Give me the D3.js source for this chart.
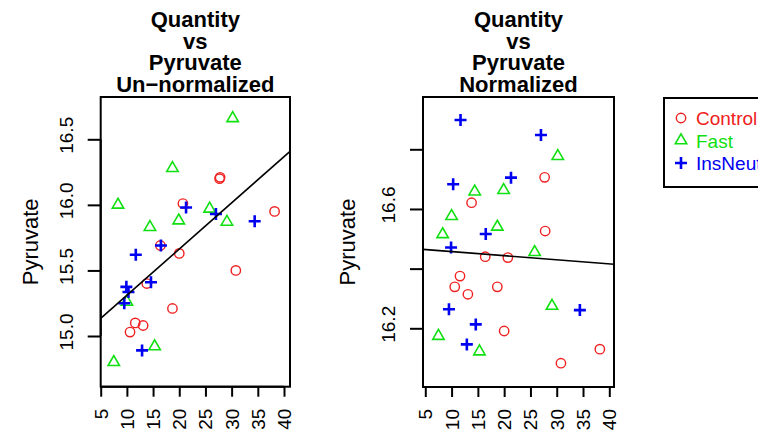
<!DOCTYPE html>
<html>
<head>
<meta charset="utf-8">
<title>Quantity vs Pyruvate</title>
<script src="https://d3js.org/d3.v7.min.js"></script>
<style>
  body { margin: 0; background: #fff; }
  text { font-family: "Liberation Sans", Arial, sans-serif; }
</style>
</head>
<body>
<div id="chart"></div>
<script>
// data
var groups = ["Control", "Fast", "InsNeut"];
var groupColors = ["#f02020", "#10e010", "#0000f0"];

var ctrlX    = [27.7, 27.8, 20.7, 38.2, 16.4, 20.0, 30.8, 13.8, 18.7, 11.6, 13.1, 10.6];
var ctrlRaw  = [16.20, 16.21, 16.01, 15.95, 15.69, 15.63, 15.50, 15.40, 15.21, 15.10, 15.08, 15.03];
var ctrlNorm = [16.706, 16.526, 16.437, 16.130, 16.440, 16.191, 16.083, 16.621, 16.339, 16.375, 16.314, 16.339];

var fastX    = [30.2, 18.7, 8.3, 25.8, 19.9, 29.1, 14.4, 10.0, 15.3, 7.5];
var fastRaw  = [16.66, 16.28, 16.00, 15.97, 15.88, 15.87, 15.83, 15.26, 14.92, 14.80];
var fastNorm = [16.777, 16.540, 16.515, 16.455, 16.663, 16.275, 16.658, 16.576, 16.122, 16.174];

var insX    = [21.3, 27.0, 34.4, 16.5, 11.7, 14.6, 9.9, 10.3, 9.5, 12.9];
var insRaw  = [15.98, 15.93, 15.875, 15.69, 15.62, 15.41, 15.375, 15.335, 15.25, 14.89];
var insNorm = [16.705, 16.848, 16.261, 16.516, 16.898, 16.213, 16.471, 16.683, 16.264, 16.146];

// fitted lines: [intercept, slope]
var rawFit  = [14.959, 0.0352];
var normFit = [16.471, -0.00138];

var xTicks = [5, 10, 15, 20, 25, 30, 35, 40];
var rawTicks = [15.0, 15.5, 16.0, 16.5];
var rawLabels = ["15.0", "15.5", "16.0", "16.5"];
var normTicks = [16.2, 16.4, 16.6, 16.8];
var normLabels = ["16.2", "", "16.6", ""];

var width = 758, height = 434;

var svg = d3.select("#chart").append("svg")
    .attr("width", width)
    .attr("height", height);

svg.append("rect").attr("width", width).attr("height", height).attr("fill", "#fff");

function makeRows(ys) {
    var rows = [];
    [ctrlX, fastX, insX].forEach(function(xs, g) {
        xs.forEach(function(x, i) { rows.push({x: x, y: ys[g][i], g: g}); });
    });
    return rows;
}

var panels = [
    {
        id: "raw",
        title: ["Quantity", "vs", "Pyruvate", "Un\u2212normalized"],
        box: [100.7, 97, 290, 386.7],
        x: d3.scaleLinear().domain([5, 40]).range([100.7, 284]),
        y: d3.scaleLinear().domain([15, 16.5]).range([336, 139.3]),
        ticks: rawTicks, labels: rawLabels,
        rows: makeRows([ctrlRaw, fastRaw, insRaw]),
        fit: rawFit,
        ylabX: 30
    },
    {
        id: "norm",
        title: ["Quantity", "vs", "Pyruvate", "Normalized"],
        box: [423, 97, 614, 387],
        x: d3.scaleLinear().domain([5, 40]).range([425.3, 609.3]),
        y: d3.scaleLinear().domain([16.2, 16.8]).range([328.3, 149.3]),
        ticks: normTicks, labels: normLabels,
        rows: makeRows([ctrlNorm, fastNorm, insNorm]),
        fit: normFit,
        ylabX: 347
    }
];

function drawSymbol(sel, g, color) {
    if (g === 0) {
        sel.append("circle").attr("r", 4.7)
            .attr("fill", "none").attr("stroke", color).attr("stroke-width", 1.4);
    } else if (g === 1) {
        var s = 6.6;
        var pts = [[0, -s], [s * 0.866, s * 0.5], [-s * 0.866, s * 0.5]];
        sel.append("path").attr("d", d3.line()(pts) + "Z")
            .attr("fill", "none").attr("stroke", color).attr("stroke-width", 1.6);
    } else {
        sel.append("path").attr("d", "M-6,0H6M0,-6V6")
            .attr("fill", "none").attr("stroke", color).attr("stroke-width", 2.6);
    }
}

panels.forEach(function(p) {
    var b = p.box;
    var cx = (b[0] + b[2]) / 2;

    // title
    p.title.forEach(function(t, i) {
        svg.append("text")
            .attr("x", cx).attr("y", 27 + i * 21.5)
            .attr("text-anchor", "middle")
            .attr("font-size", 22).attr("font-weight", "bold")
            .text(t);
    });

    svg.append("clipPath").attr("id", "clip-" + p.id)
        .append("rect").attr("x", b[0]).attr("y", b[1])
        .attr("width", b[2] - b[0]).attr("height", b[3] - b[1]);

    var g = svg.append("g");

    // points
    g.selectAll(".pt").data(p.rows).enter().append("g")
        .attr("transform", function(d) { return "translate(" + p.x(d.x) + "," + p.y(d.y) + ")"; })
        .each(function(d) { drawSymbol(d3.select(this), d.g, groupColors[d.g]); });

    // fitted line across the plot region
    var x0 = p.x.invert(b[0]), x1 = p.x.invert(b[2]);
    g.append("line")
        .attr("clip-path", "url(#clip-" + p.id + ")")
        .attr("x1", p.x(x0)).attr("y1", p.y(p.fit[0] + p.fit[1] * x0))
        .attr("x2", p.x(x1)).attr("y2", p.y(p.fit[0] + p.fit[1] * x1))
        .attr("stroke", "#000").attr("stroke-width", 1.6);

    // box
    svg.append("rect")
        .attr("x", b[0]).attr("y", b[1])
        .attr("width", b[2] - b[0]).attr("height", b[3] - b[1])
        .attr("fill", "none").attr("stroke", "#000").attr("stroke-width", 2);

    // x axis
    var xa = svg.append("g").attr("transform", "translate(0," + b[3] + ")")
        .call(d3.axisBottom(p.x).tickValues(xTicks).tickSize(10).tickFormat(""));
    xa.select(".domain").attr("stroke-width", 2).attr("d", "M" + p.x(5) + ",0H" + p.x(40));
    xa.selectAll(".tick line").attr("stroke-width", 2);
    xTicks.forEach(function(t) {
        svg.append("text")
            .attr("transform", "translate(" + (p.x(t) + 7) + "," + (b[3] + 22) + ") rotate(-90)")
            .attr("text-anchor", "end")
            .attr("font-size", 19)
            .text(t);
    });

    // y axis
    var ya = svg.append("g").attr("transform", "translate(" + b[0] + ",0)")
        .call(d3.axisLeft(p.y).tickValues(p.ticks).tickSize(13).tickFormat(""));
    ya.select(".domain").attr("stroke-width", 2)
        .attr("d", "M0," + p.y(p.ticks[0]) + "V" + p.y(p.ticks[p.ticks.length - 1]));
    ya.selectAll(".tick line").attr("stroke-width", 2);
    p.ticks.forEach(function(t, i) {
        if (!p.labels[i]) return;
        svg.append("text")
            .attr("transform", "translate(" + (b[0] - 28) + "," + (p.y(t) - 4) + ") rotate(-90)")
            .attr("text-anchor", "middle")
            .attr("font-size", 19)
            .text(p.labels[i]);
    });

    // y label
    svg.append("text")
        .attr("transform", "translate(" + (p.ylabX + 8) + "," + (b[1] + b[3]) / 2 + ") rotate(-90)")
        .attr("text-anchor", "middle")
        .attr("font-size", 22)
        .text("Pyruvate");
});

// legend
var lg = svg.append("g");
lg.append("rect").attr("x", 664).attr("y", 98).attr("width", 140).attr("height", 89)
    .attr("fill", "#fff").attr("stroke", "#000").attr("stroke-width", 2);
groups.forEach(function(name, i) {
    var ly = 118 + i * 22.5;
    var s = lg.append("g").attr("transform", "translate(681," + ly + ")");
    drawSymbol(s, i, groupColors[i]);
    lg.append("text")
        .attr("x", 696).attr("y", ly + 7)
        .attr("font-size", 19)
        .attr("fill", groupColors[i])
        .text(name);
});
</script>
</body>
</html>
